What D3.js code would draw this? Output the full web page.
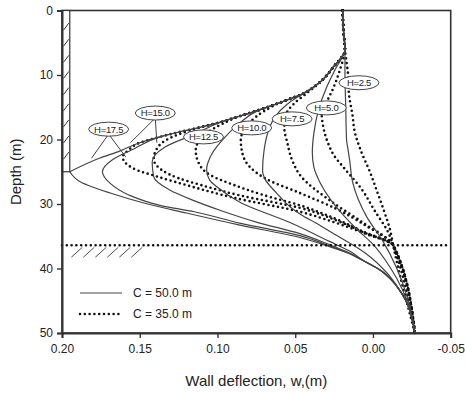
<!DOCTYPE html>
<html>
<head>
<meta charset="utf-8">
<script src="https://cdn.jsdelivr.net/npm/d3@7"></script>
<style>
  body { margin: 0; background: #fff; }
  svg { font-family: Arial, "Liberation Sans", sans-serif; }
</style>
</head>
<body>
<svg id="chart" width="465" height="393"></svg>
<script>

// axes
const depthTicks = [0, 10, 20, 30, 40, 50];
const wTicks = [0.20, 0.15, 0.10, 0.05, 0.00, -0.05];
const wTickLabels = ["0.20", "0.15", "0.10", "0.05", "0.00", "-0.05"];

// curves, points are [depth (m), wall deflection (m)]
// C = 50.0 m (solid)
const solid17_5 = [[0,.0195],[3,.019],[6.1,.018],[8.9,.026],[11.1,.034],[12.9,.045],[14.3,.060],[15.4,.073],[16.4,.086],[17.3,.098],[18.1,.111],[18.8,.124],[19.6,.137],[20.5,.150],[21.8,.163],[22.9,.176],[25,.195],
  [26.6,.188],[28.3,.169],[29.8,.148],[31.4,.120],[33.2,.087],[35.2,.047],[36.6,.028],[37.6,.016],[38.8,.006],[40.3,-.005],[41.8,-.012],[43.3,-.017],[44.9,-.021],[50,-.027]];
const solid15 = [[0,.0195],[3,.019],[6.1,.018],[8.9,.026],[11.1,.034],[12.9,.045],[14.3,.060],[15.4,.073],[16.4,.086],[17.3,.098],[18.1,.111],[18.8,.124],[19.6,.137],[21.6,.155],[23.2,.168],[25,.174],
  [26.8,.169],[28.6,.157],[30.2,.137],[31.2,.115],[33,.085],[34.9,.047],[36.5,.028],[37.6,.016],[38.8,.006],[40.3,-.005],[41.8,-.012],[43.3,-.017],[44.9,-.021],[50,-.027]];
const solid12_5 = [[0,.0195],[3,.019],[6.1,.018],[8.9,.026],[11.1,.034],[12.9,.045],[14.3,.060],[15.4,.073],[16.4,.086],[17.3,.098],[19,.113],[21.2,.134],[23.5,.142],[25.8,.141],
  [27.8,.131],[29.4,.116],[31,.098],[32.8,.075],[34.6,.047],[36.3,.028],[37.5,.016],[38.8,.006],[40.3,-.005],[41.8,-.012],[43.3,-.017],[44.9,-.021],[50,-.027]];
const solid10 = [[0,.0195],[3,.019],[6.1,.018],[8.9,.026],[11.1,.034],[12.9,.045],[14.3,.060],[15.4,.073],[17.5,.086],[19.6,.095],[22.4,.104],[24.7,.107],[26.3,.105],
  [27.4,.100],[29.8,.085],[32.9,.053],[35.8,.028],[37.3,.015],[38.8,.006],[40.3,-.005],[41.8,-.012],[43.3,-.017],[44.9,-.021],[50,-.027]];
const solid7_5 = [[0,.0195],[3,.019],[6.1,.018],[8.9,.026],[11.1,.034],[12.9,.045],[14.5,.055],[16.5,.063],[18.5,.067],[21.6,.070],[24.8,.071],[26.3,.069],
  [28.3,.062],[30.5,.053],[31.7,.046],[32.9,.037],[34.5,.026],[37.6,.005],[40.7,-.009],[43.3,-.017],[44.9,-.021],[50,-.027]];
const solid5 = [[0,.0195],[3,.019],[6.1,.018],[9,.024],[12,.030],[15.4,.035],[19,.038],[22,.039],[24.3,.038],[26.7,.034],[29.4,.027],[32,.018],[34,.010],[36,.001],
  [39.8,-.011],[43.3,-.019],[45.9,-.023],[50,-.027]];
const solid2_5 = [[0,.0195],[3,.019],[6.1,.018],[10,.018],[15,.0175],[20,.017],[21.6,.016],[23.2,.015],[26.7,.013],[32,.004],[35.6,-.006],[39.8,-.015],[44.4,-.022],[50,-.027]];

// C = 35.0 m (dotted)
const dotted17_5 = [[0,.0195],[3,.019],[6.1,.018],[8.9,.026],[11.1,.034],[12.9,.045],[14.3,.060],[15.4,.073],[16.4,.086],[17.3,.098],[18.1,.111],[18.8,.124],[19.6,.137],[20.5,.150],[21.6,.157],[22.7,.161],
  [24.5,.154],[25.8,.138],[27.2,.118],[29,.090],[31.2,.047],[32.9,.024],[34.6,.005],[36.4,-.013],[50,-.027]];
const dotted15 = [[0,.0195],[3,.019],[6.1,.018],[8.9,.026],[11.1,.034],[12.9,.045],[14.3,.060],[15.4,.073],[16.4,.086],[17.3,.098],[18.1,.111],[19.2,.125],[20.8,.137],[23,.141],
  [24.7,.136],[26,.125],[27.1,.110],[28.7,.085],[30.6,.047],[32.5,.024],[34.4,.006],[36.4,-.013],[50,-.027]];
const dotted12_5 = [[0,.0195],[3,.019],[6.1,.018],[8.9,.026],[11.1,.034],[12.9,.045],[14.3,.060],[15.4,.073],[16.4,.086],[17.6,.097],[19.2,.108],[21.7,.114],[23.7,.112],
  [25.6,.104],[27,.090],[28.5,.072],[30.2,.047],[32.3,.024],[34.2,.007],[36.4,-.013],[50,-.027]];
const dotted10 = [[0,.0195],[3,.019],[6.1,.018],[8.9,.026],[11.1,.034],[12.9,.045],[14.3,.060],[15.6,.070],[17.3,.079],[20.1,.085],[22.1,.084],[24.3,.079],
  [26.2,.068],[28.3,.047],[30.7,.024],[33.3,.005],[36.4,-.013],[50,-.027]];
const dotted7_5 = [[0,.0195],[3,.019],[6.1,.018],[8.9,.026],[11.1,.034],[12.9,.043],[14.5,.051],[16.2,.056],[18.2,.057],[20.6,.055],[23.2,.052],[25.8,.046],
  [29.4,.028],[32.8,.007],[36.4,-.013],[50,-.027]];
const dotted5 = [[0,.0195],[3,.019],[6.1,.018],[9,.021],[12.3,.026],[14.3,.030],[15.9,.033],[18,.032],[20.5,.029],[22.5,.025],[24.3,.019],[27.8,.007],[31,-.001],[34.5,-.010],[36.4,-.013],[50,-.027]];
const dotted2_5 = [[0,.0195],[3,.019],[6.1,.018],[10,.016],[12.8,.0155],[16.5,.013],[18.5,.012],[21.6,.008],[25,.002],[28.3,-.003],[31,-.007],[34,-.011],[36.4,-.013],[50,-.027]];

// labels: text, [depth, w] of centre
const labelNames = ["H=17.5", "H=15.0", "H=12.5", "H=10.0", "H=7.5", "H=5.0", "H=2.5"];
const labelPos = [[18.4,.170],[15.9,.140],[19.6,.109],[18.2,.078],[16.8,.052],[15.1,.030],[11.2,.009]];
// leader lines from label to curves (label index, [depth, w] end)
const leaders = [[0,[22.9,.181]],[0,[22.7,.159]],[1,[20.5,.156]],[1,[20.5,.139]]];

// wall and excavation
const wallDepth = 25;
const wallThick = 0.005;
const groundDepth = 36.4;

const legendNames = ["C = 50.0 m", "C = 35.0 m"];

const width = 465, height = 393;
const margin = {top: 10.5, right: 14.3, bottom: 60, left: 62};

const svg = d3.select("#chart");
const x = d3.scaleLinear().domain([0.20, -0.05]).range([margin.left, width - margin.right]);
const y = d3.scaleLinear().domain([0, 50]).range([margin.top, height - margin.bottom]);

const ink = "#333";

// frame
svg.append("rect")
    .attr("x", x(0.20)).attr("y", y(0))
    .attr("width", x(-0.05) - x(0.20))
    .attr("height", y(50) - y(0))
    .attr("fill", "none")
    .attr("stroke", ink)
    .attr("stroke-width", 1.6);

// wall with hatching
const wallG = svg.append("g");
wallG.append("rect")
    .attr("x", x(0.20)).attr("y", y(0))
    .attr("width", x(0.20 - wallThick) - x(0.20))
    .attr("height", y(wallDepth) - y(0))
    .attr("fill", "#fff")
    .attr("stroke", ink)
    .attr("stroke-width", 1.2);
for (let d = 2.5; d < wallDepth; d += 2.5) {
    wallG.append("line")
        .attr("x1", x(0.20) + 1.5).attr("y1", y(d) + 3.5)
        .attr("x2", x(0.20 - wallThick) - 1).attr("y2", y(d) - 3.5)
        .attr("stroke", ink).attr("stroke-width", 1);
}

// curves
const line = d3.line()
    .x(d => x(d[1]))
    .y(d => y(d[0]))
    .curve(d3.curveMonotoneY);

const solids = [solid17_5, solid15, solid12_5, solid10, solid7_5, solid5, solid2_5];
const dotteds = [dotted17_5, dotted15, dotted12_5, dotted10, dotted7_5, dotted5, dotted2_5];

const curveG = svg.append("g");

dotteds.forEach(pts => {
    curveG.append("path")
        .attr("d", line(pts))
        .attr("fill", "none")
        .attr("stroke", "#111")
        .attr("stroke-width", 2.6)
        .attr("stroke-linecap", "round")
        .attr("stroke-dasharray", "0 4.8");
});

solids.forEach((pts, i) => {
    // H=17.5 has a sharp tip at the wall toe, draw both branches apart
    if (i === 0) {
        let k = pts.findIndex(p => p[0] === wallDepth);
        [pts.slice(0, k + 1), pts.slice(k)].forEach(part => {
            curveG.append("path")
                .attr("d", line(part))
                .attr("fill", "none")
                .attr("stroke", "#444")
                .attr("stroke-width", 1.2);
        });
    } else {
        curveG.append("path")
            .attr("d", line(pts))
            .attr("fill", "none")
            .attr("stroke", "#444")
            .attr("stroke-width", 1.2);
    }
});

// excavation level
svg.append("line")
    .attr("x1", x(0.20)).attr("x2", x(-0.05))
    .attr("y1", y(groundDepth)).attr("y2", y(groundDepth))
    .attr("stroke", "#111")
    .attr("stroke-width", 2.6)
    .attr("stroke-linecap", "round")
    .attr("stroke-dasharray", "0 4.8");
for (let i = 0; i < 6; i++) {
    let x0 = x(0.194) + i * 12;
    svg.append("line")
        .attr("x1", x0).attr("y1", y(groundDepth) + 12)
        .attr("x2", x0 + 11).attr("y2", y(groundDepth) + 2)
        .attr("stroke", "#555").attr("stroke-width", 1);
}

// leaders and labels
const labelG = svg.append("g");
leaders.forEach(([i, p]) => {
    labelG.append("line")
        .attr("x1", x(labelPos[i][1])).attr("y1", y(labelPos[i][0]) + 5)
        .attr("x2", x(p[1])).attr("y2", y(p[0]))
        .attr("stroke", "#444").attr("stroke-width", 1);
});
labelNames.forEach((name, i) => {
    let cx = x(labelPos[i][1]), cy = y(labelPos[i][0]);
    labelG.append("ellipse")
        .attr("cx", cx).attr("cy", cy)
        .attr("rx", 20).attr("ry", 7)
        .attr("fill", "#fff")
        .attr("stroke", "#444")
        .attr("stroke-width", 1);
    labelG.append("text")
        .attr("x", cx).attr("y", cy)
        .attr("dy", "0.35em")
        .attr("text-anchor", "middle")
        .attr("font-size", 9.5)
        .attr("letter-spacing", -0.3)
        .attr("fill", "#222")
        .text(name);
});

// axes
const yAxis = d3.axisLeft(y).tickValues(depthTicks).tickSize(5).tickPadding(4);
const xAxis = d3.axisBottom(x).tickValues(wTicks).tickSize(5).tickPadding(6)
    .tickFormat((d, i) => wTickLabels[i]);

const gy = svg.append("g")
    .attr("transform", `translate(${margin.left},0)`)
    .call(yAxis);
const gx = svg.append("g")
    .attr("transform", `translate(0,${height - margin.bottom})`)
    .call(xAxis);

[gx, gy].forEach(g => {
    g.select(".domain").attr("stroke", ink).attr("stroke-width", 2);
    g.selectAll(".tick line").attr("stroke", ink).attr("stroke-width", 1.4);
    g.selectAll(".tick text").attr("font-size", 12).attr("fill", "#222")
        .attr("font-family", "Arial, 'Liberation Sans', sans-serif");
});

svg.append("text")
    .attr("x", (x(0.20) + x(-0.05)) / 2)
    .attr("y", 386)
    .attr("text-anchor", "middle")
    .attr("font-size", 15)
    .attr("fill", "#222")
    .text("Wall deflection, w,(m)");

svg.append("text")
    .attr("transform", `translate(21,${(y(0) + y(50)) / 2}) rotate(-90)`)
    .attr("text-anchor", "middle")
    .attr("font-size", 15)
    .attr("fill", "#222")
    .text("Depth (m)");

// legend
const legendG = svg.append("g");
legendNames.forEach((name, i) => {
    let ly = y(43.8) + i * 21;
    let l = legendG.append("line")
        .attr("x1", margin.left + 18).attr("x2", margin.left + 60)
        .attr("y1", ly).attr("y2", ly);
    if (i === 0) {
        l.attr("stroke", "#444").attr("stroke-width", 1.2);
    } else {
        l.attr("stroke", "#111").attr("stroke-width", 2.6)
            .attr("stroke-linecap", "round").attr("stroke-dasharray", "0 4.8");
    }
    legendG.append("text")
        .attr("x", margin.left + 71).attr("y", ly)
        .attr("dy", "0.35em")
        .attr("font-size", 12)
        .attr("fill", "#222")
        .text(name);
});

</script>
</body>
</html>
